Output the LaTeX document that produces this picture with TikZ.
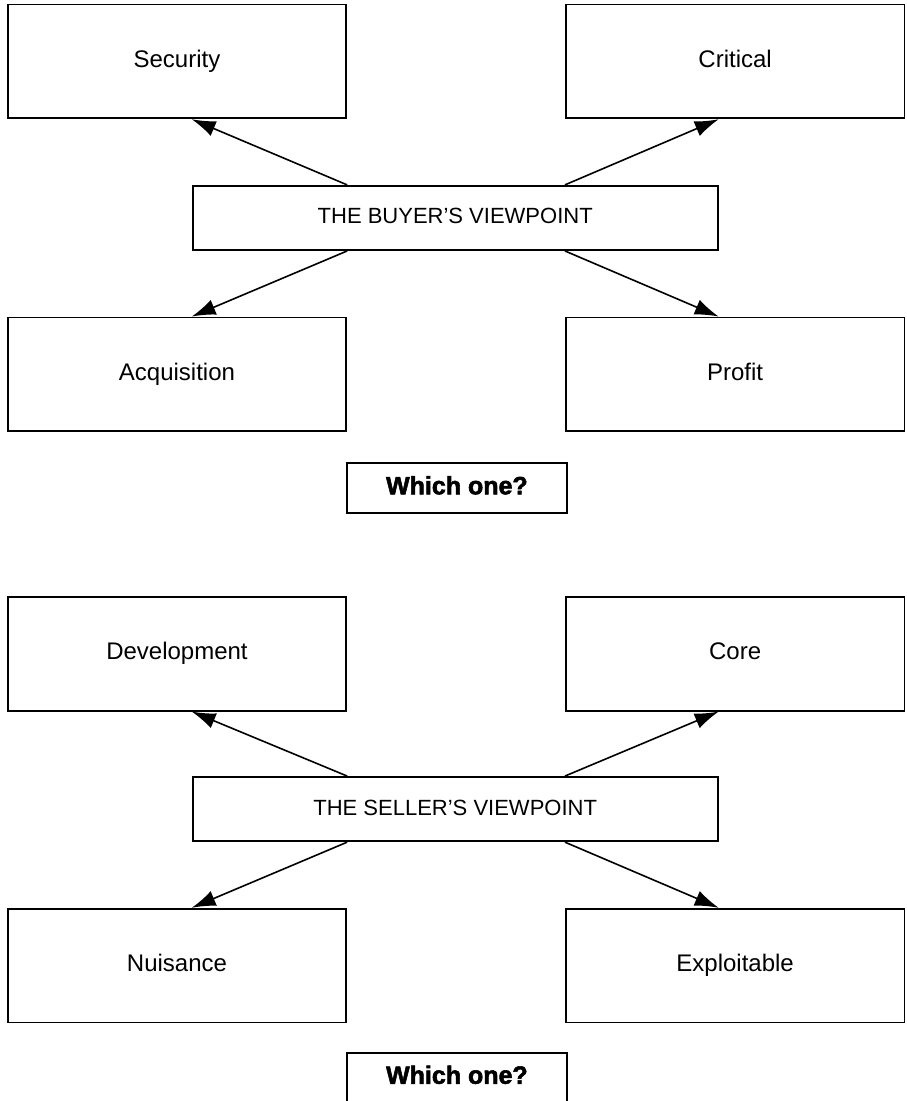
\documentclass[tikz,border=0pt]{standalone}
\usepackage{fontspec}
\setmainfont{Liberation Sans}
\newfontfamily\heavyfont[BoldFeatures={FakeBold=2.2}]{Liberation Sans}
\usepackage{tikz}
\usetikzlibrary{
    arrows.meta,
    positioning
}
\tikzset{
    view box/.style={
        draw,
        align=center,
        font=\fontsize{12}{14}\selectfont,
        text height=1.6ex,
        text depth=0.45ex,
        minimum width=5.95cm,
        minimum height=2.0cm,
        inner sep=0pt,
        line width=0.9pt
    },
    view centre/.style={
        view box,
        font=\fontsize{11}{13}\selectfont,
        minimum width=9.23cm,
        minimum height=1.13cm
    },
    view question/.style={
        view box,
        font=\fontsize{12.5}{14}\selectfont\heavyfont\bfseries,
        minimum width=3.87cm,
        minimum height=0.88cm
    },
    view arrow/.style={-{Latex[length=4.2mm,width=2.8mm]}, line width=0.8pt}
}

\begin{document}
\begin{tikzpicture}
    \useasboundingbox (0,0) rectangle (15.94,-19.35);

    % buyer
    \node[view box] (security) at (3.11,-1.08) {Security};
    \node[view box] (critical) at (12.92,-1.08) {Critical};
    \node[view centre] (buyer) at (8.00,-3.83) {THE BUYER'S VIEWPOINT};
    \node[view box] (acquisition) at (3.11,-6.58) {Acquisition};
    \node[view box] (profit) at (12.92,-6.58) {Profit};
    \node[view question] (whichbuyer) at (8.03,-8.58) {Which one?};

    % seller
    \node[view box] (development) at (3.11,-11.49) {Development};
    \node[view box] (core) at (12.92,-11.49) {Core};
    \node[view centre] (seller) at (8.00,-14.22) {THE SELLER'S VIEWPOINT};
    \node[view box] (nuisance) at (3.11,-16.97) {Nuisance};
    \node[view box] (exploitable) at (12.92,-16.97) {Exploitable};
    \node[view question] (whichseller) at (8.03,-18.94) {Which one?};

    \foreach \centre/\tl/\tr/\bl/\br in {buyer/security/critical/acquisition/profit,
                                         seller/development/core/nuisance/exploitable}
    {
        \draw[view arrow] (\tl.east |- \centre.north) -- (\centre.west |- \tl.south);
        \draw[view arrow] (\tr.west |- \centre.north) -- (\centre.east |- \tr.south);
        \draw[view arrow] (\bl.east |- \centre.south) -- (\centre.west |- \bl.north);
        \draw[view arrow] (\br.west |- \centre.south) -- (\centre.east |- \br.north);
    }
\end{tikzpicture}
\end{document}
